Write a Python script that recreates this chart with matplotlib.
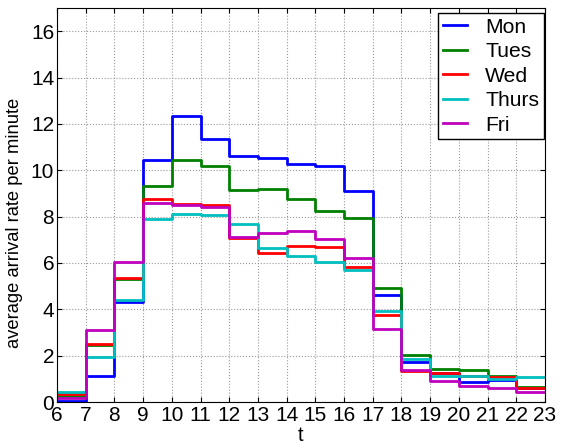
import matplotlib
import matplotlib.pyplot as plt

matplotlib.use('agg')

# hourly arrival rates, one value per hour starting at 6:00
hours = list(range(6, 24))
mon = [0.04, 1.13, 4.30, 10.46, 12.36, 11.34, 10.63, 10.52, 10.25, 10.19, 9.12,
       4.60, 1.74, 1.23, 0.88, 0.96, 0.62]
tues = [0.25, 2.45, 5.32, 9.33, 10.43, 10.20, 9.15, 9.17, 8.78, 8.26, 7.96,
        4.90, 2.03, 1.42, 1.40, 1.13, 0.66]
wed = [0.36, 2.51, 5.36, 8.77, 8.56, 8.48, 7.07, 6.44, 6.71, 6.67, 5.84,
       3.77, 1.33, 1.23, 1.12, 1.07, 0.60]
thurs = [0.45, 1.96, 4.39, 7.90, 8.12, 8.09, 7.69, 6.63, 6.29, 6.02, 5.68,
         3.91, 1.87, 1.14, 1.13, 1.01, 1.07]
fri = [0.17, 3.12, 6.06, 8.60, 8.51, 8.42, 7.14, 7.30, 7.39, 7.04, 6.21,
       3.13, 1.39, 0.91, 0.70, 0.59, 0.41]

series = [
    (mon, 'Mon', (0, 0, 1)),
    (tues, 'Tues', (0, 0.5, 0)),
    (wed, 'Wed', (1, 0, 0)),
    (thurs, 'Thurs', (0, 0.75, 0.75)),
    (fri, 'Fri', (0.75, 0, 0.75)),
]

plt.rcParams['font.family'] = ['Liberation Sans', 'DejaVu Sans']

fig = plt.figure(figsize=(5.62, 4.45), dpi=100)
ax = fig.add_axes([57 / 562, 1 - 402 / 445, 488 / 562, 394 / 445])

# repeat last value so the final step reaches 23
for y, label, color in series:
    ax.step(hours, y + [y[-1]], where='post', color=color, lw=2, label=label)

ax.set_xlim(6, 23)
ax.set_ylim(0, 17)
ax.set_xticks(range(6, 24))
ax.set_yticks(range(0, 17, 2))

# MATLAB look: inward ticks on all sides, dotted grid
ax.tick_params(direction='in', top=True, right=True, labelsize=15)
ax.tick_params(axis='x', pad=3)
ax.tick_params(axis='y', pad=2)
ax.grid(True, linestyle=':', color='0.6', linewidth=0.8)

ax.set_xlabel('t', fontsize=14.5)
ax.xaxis.set_label_coords(0.5, -0.062)
ax.set_ylabel('average arrival rate per minute', fontsize=13.2)
ax.yaxis.set_label_coords(-0.07, 0.455)

leg = ax.legend(loc='upper right', bbox_to_anchor=(1.0, 0.99),
                fontsize=15.2, fancybox=False, framealpha=1,
                edgecolor='black', handlelength=1.15, handletextpad=0.85,
                labelspacing=0.26, borderpad=0.22, borderaxespad=0.05)
leg.get_frame().set_linewidth(1)

fig.savefig('out.png')
